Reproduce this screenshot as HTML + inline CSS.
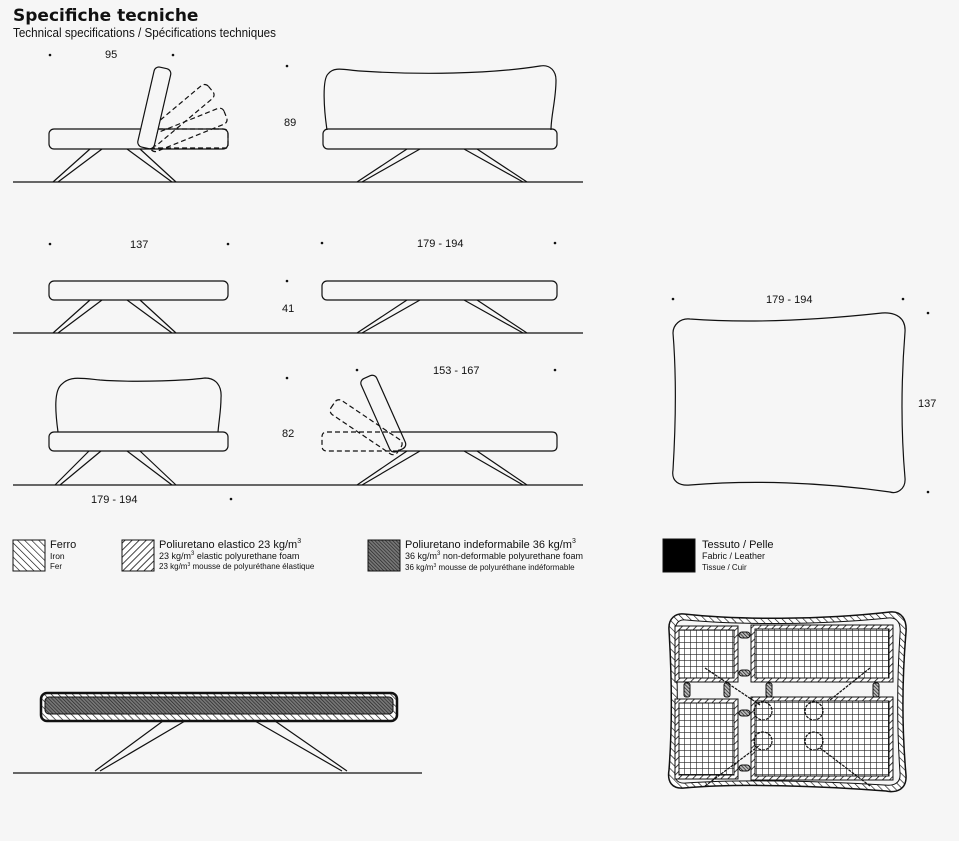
<!DOCTYPE html>
<html><head><meta charset="utf-8"><style>
html,body{margin:0;padding:0;background:#f6f6f6;}
svg{display:block}
text{font-family:"Liberation Sans",sans-serif;fill:#111}
</style></head><body>
<svg width="959" height="841" viewBox="0 0 959 841" xmlns="http://www.w3.org/2000/svg">
<defs>
<pattern id="h1" width="5" height="5" patternUnits="userSpaceOnUse" patternTransform="rotate(45)"><rect width="5" height="5" fill="#fff"/><line x1="0" y1="0" x2="0" y2="5" stroke="#111" stroke-width="1.6"/></pattern>
<pattern id="h2" width="5" height="5" patternUnits="userSpaceOnUse" patternTransform="rotate(-45)"><rect width="5" height="5" fill="#fff"/><line x1="0" y1="0" x2="0" y2="5" stroke="#111" stroke-width="1.3"/></pattern>
<pattern id="h3" width="2.5" height="2.5" patternUnits="userSpaceOnUse" patternTransform="rotate(-45)"><rect width="2.5" height="2.5" fill="#bbb"/><line x1="0" y1="0" x2="0" y2="2.5" stroke="#111" stroke-width="1.3"/></pattern>
<pattern id="h4" width="2.5" height="2.5" patternUnits="userSpaceOnUse" patternTransform="rotate(-45)"><rect width="2.5" height="2.5" fill="#777"/><line x1="0" y1="0" x2="0" y2="2.5" stroke="#222" stroke-width="1.3"/></pattern>
<pattern id="grid" width="6" height="6" patternUnits="userSpaceOnUse"><rect width="6" height="6" fill="#fff"/><path d="M0 0H6M0 0V6" stroke="#222" stroke-width="1.2"/></pattern>
</defs>
<rect width="959" height="841" fill="#f6f6f6"/>
<text x="13" y="21" font-size="17" font-weight="bold" style="font-family:'DejaVu Sans',sans-serif">Specifiche tecniche</text>
<text x="13" y="37" font-size="13" textLength="263" lengthAdjust="spacingAndGlyphs">Technical specifications / Spécifications techniques</text>

<g fill="#111">
<circle cx="50" cy="55" r="1.3"/><circle cx="173" cy="55" r="1.3"/><circle cx="287" cy="66" r="1.3"/>
<circle cx="50" cy="244" r="1.3"/><circle cx="228" cy="244" r="1.3"/><circle cx="322" cy="243" r="1.3"/><circle cx="555" cy="243" r="1.3"/><circle cx="287" cy="281" r="1.3"/>
<circle cx="287" cy="378" r="1.3"/><circle cx="357" cy="370" r="1.3"/><circle cx="555" cy="370" r="1.3"/><circle cx="231" cy="499" r="1.3"/>
<circle cx="673" cy="299" r="1.3"/><circle cx="903" cy="299" r="1.3"/><circle cx="928" cy="313" r="1.3"/><circle cx="928" cy="492" r="1.3"/>
</g>
<g font-size="11">
<text x="105" y="58">95</text><text x="284" y="126">89</text>
<text x="130" y="248">137</text><text x="417" y="247">179 - 194</text><text x="282" y="312">41</text>
<text x="433" y="374">153 - 167</text><text x="282" y="437">82</text><text x="91" y="503">179 - 194</text>
<text x="766" y="303">179 - 194</text><text x="918" y="407">137</text>
</g>

<g stroke="#111" fill="none" stroke-width="1.2">
<line x1="13" y1="182" x2="583" y2="182"/><line x1="13" y1="333" x2="583" y2="333"/><line x1="13" y1="485" x2="583" y2="485"/><line x1="13" y1="773" x2="422" y2="773"/>

<rect x="49" y="129" width="179" height="20" rx="5"/>
<path d="M90 149L53 182M102 149L58 182M127 149L172 182M140 149L176 182"/>
<g stroke-dasharray="5 3"><path d="M150 129H223Q228 129 228 134V148H150"/>
<rect x="-8" y="-80" width="17" height="82" rx="5" transform="translate(149,140) rotate(50)"/>
<rect x="-8" y="-80" width="17" height="82" rx="5" transform="translate(151,144) rotate(68)"/></g>
<rect x="-9" y="-80" width="17" height="82" rx="5" transform="translate(146,146) rotate(13)" fill="#f6f6f6"/>

<path d="M327 130C324 110 322 80 328 74C334 66 345 70 360 71C420 75 490 74 540 66C551 64 556 72 556 80C556 100 551 115 551 130"/>
<rect x="323" y="129" width="234" height="20" rx="5"/>
<path d="M407 149L357 182M420 149L362 182M464 149L523 182M477 149L527 182"/>

<rect x="49" y="281" width="179" height="19" rx="5"/>
<path d="M90 300L53 333M102 300L58 333M127 300L172 333M140 300L176 333"/>
<rect x="322" y="281" width="235" height="19" rx="5"/>
<path d="M407 300L357 333M420 300L362 333M464 300L523 333M477 300L527 333"/>

<path d="M58 432C55 410 54 390 62 384C70 376 80 378 100 380C140 383 190 380 205 378C216 378 222 386 221 398C221 410 219 420 218 432"/>
<rect x="49" y="432" width="179" height="19" rx="5"/>
<path d="M89 451L55 485M101 451L60 485M127 451L172 485M140 451L176 485"/>

<path d="M396 432H552Q557 432 557 437V446Q557 451 552 451H396"/>
<path d="M396 432H327Q322 432 322 437V446Q322 451 327 451H396" stroke-dasharray="5 3"/>
<rect x="-8" y="-80" width="17" height="80" rx="5" transform="translate(399,450) rotate(-56)" stroke-dasharray="5 3"/>
<rect x="-9" y="-80" width="17" height="80" rx="5" transform="translate(400,450) rotate(-24)"/>
<path d="M407 451L357 485M420 451L362 485M464 451L523 485M477 451L527 485"/>

<path d="M690 319C730 322 790 323 882 313C896 312 906 318 905 332C902 370 900 420 905 478C906 490 896 494 890 492C820 482 750 480 690 485C680 486 671 482 673 470C676 420 676 370 673 333C673 325 680 318 690 319Z"/>
</g>

<g stroke="#111" stroke-width="1">
<rect x="13" y="540" width="32" height="31" fill="url(#h2)"/>
<rect x="122" y="540" width="32" height="31" fill="url(#h1)"/>
<rect x="368" y="540" width="32" height="31" fill="url(#h4)"/>
<rect x="663" y="539" width="32" height="33" fill="#000"/>
</g>
<g>
<text x="50" y="548" font-size="11">Ferro</text><text x="50" y="559" font-size="8.5">Iron</text><text x="50" y="569" font-size="8">Fer</text>
<text x="159" y="548" font-size="11">Poliuretano elastico 23 kg/m<tspan font-size="7" dy="-5">3</tspan></text>
<text x="159" y="559" font-size="9">23 kg/m<tspan font-size="6" dy="-4">3</tspan><tspan dy="4"> elastic polyurethane foam</tspan></text>
<text x="159" y="569" font-size="8">23 kg/m<tspan font-size="5" dy="-3">3</tspan><tspan dy="3"> mousse de polyuréthane élastique</tspan></text>
<text x="405" y="548" font-size="11">Poliuretano indeformabile 36 kg/m<tspan font-size="7" dy="-5">3</tspan></text>
<text x="405" y="559" font-size="9">36 kg/m<tspan font-size="6" dy="-4">3</tspan><tspan dy="4"> non-deformable polyurethane foam</tspan></text>
<text x="405" y="570" font-size="8">36 kg/m<tspan font-size="5" dy="-3">3</tspan><tspan dy="3"> mousse de polyuréthane indéformable</tspan></text>
<text x="702" y="548" font-size="11">Tessuto / Pelle</text><text x="702" y="559" font-size="9">Fabric / Leather</text><text x="702" y="570" font-size="8">Tissue / Cuir</text>
</g>

<g stroke="#111">
<path d="M163 721L95 771M185 721L100 771M255 721L342 771M275 721L347 771" fill="none" stroke-width="1.2"/>
<rect x="41" y="693" width="356" height="28" rx="6" fill="url(#h2)" stroke-width="2.5"/>
<rect x="45" y="697" width="348" height="17" rx="4" fill="url(#h4)" stroke-width="1"/>
</g>

<g stroke="#111">
<path d="M684 614C740 620 820 620 890 612C902 611 907 620 906 632C902 680 902 730 906 775C907 790 896 793 886 791C820 786 740 783 684 788C672 789 667 782 669 770C672 730 672 680 669 630C668 618 676 613 684 614Z" fill="url(#h2)" stroke-width="1.5"/>
<path d="M686 620C740 625 820 625 888 618C898 617 901 624 900 634C897 680 897 730 900 773C901 784 893 786 884 785C820 781 740 779 686 783C677 784 674 779 675 770C678 730 678 680 675 632C675 623 679 619 686 620Z" fill="#f6f6f6" stroke-width="1"/>
<rect x="675" y="626" width="63" height="56" fill="url(#h1)" stroke-width="1"/>
<rect x="751" y="625" width="142" height="57" fill="url(#h1)" stroke-width="1"/>
<rect x="675" y="699" width="63" height="80" fill="url(#h1)" stroke-width="1"/>
<rect x="751" y="697" width="142" height="83" fill="url(#h1)" stroke-width="1"/>
<rect x="679" y="630" width="55" height="48" fill="url(#grid)" stroke-width="1"/>
<rect x="755" y="629" width="134" height="49" fill="url(#grid)" stroke-width="1"/>
<rect x="679" y="703" width="55" height="72" fill="url(#grid)" stroke-width="1"/>
<rect x="755" y="701" width="134" height="75" fill="url(#grid)" stroke-width="1"/>
<g fill="url(#h3)" stroke-width="1">
<rect x="739" y="632" width="11" height="6" rx="3"/><rect x="739" y="670" width="11" height="6" rx="3"/>
<rect x="739" y="710" width="11" height="6" rx="3"/><rect x="739" y="765" width="11" height="6" rx="3"/>
<rect x="684" y="683" width="6" height="14" rx="2"/><rect x="724" y="683" width="6" height="14" rx="2"/>
<rect x="766" y="683" width="6" height="14" rx="2"/><rect x="873" y="683" width="6" height="14" rx="2"/>
</g>
<g fill="none" stroke-width="1.2" stroke-dasharray="3 1">
<path d="M705 668L760 705M870 668L830 700M705 786L760 745M870 786L820 748"/>
<circle cx="763" cy="711" r="9"/><circle cx="814" cy="711" r="9"/><circle cx="763" cy="741" r="9"/><circle cx="814" cy="741" r="9"/>
</g>
</g>
</svg>
</body></html>
